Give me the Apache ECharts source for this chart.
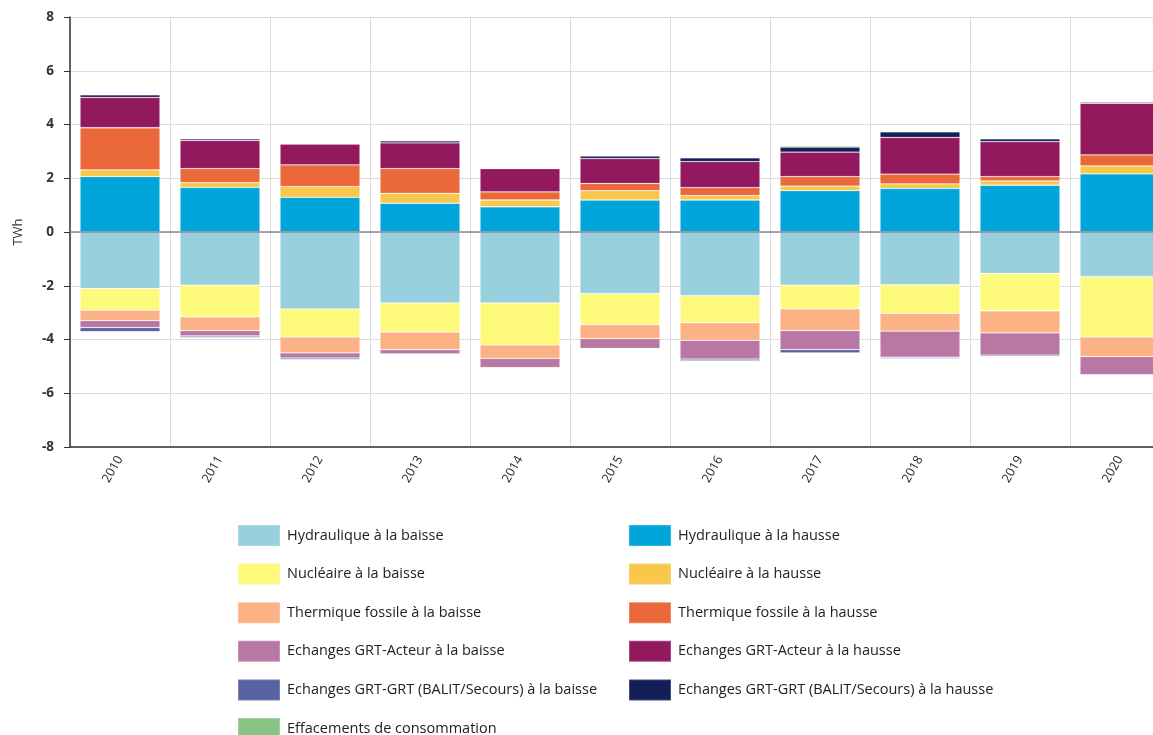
<!DOCTYPE html>
<html>
<head>
<meta charset="utf-8">
<script src="https://cdn.jsdelivr.net/npm/echarts@6/dist/echarts.min.js"></script>
<style>html,body{margin:0;padding:0;background:#fff;overflow:hidden;width:1153px;height:735px}#c{width:1170px;height:780px}</style>
</head>
<body>
<div id="c"></div>
<script>
const years = ['2010','2011','2012','2013','2014','2015','2016','2017','2018','2019','2020'];
const yTicks = [-8,-6,-4,-2,0,2,4,6,8];

const hydroDown   = [-2.10,-1.98,-2.86,-2.64,-2.64,-2.29,-2.37,-1.98,-1.96,-1.54,-1.66];
const nuclDown    = [-0.81,-1.18,-1.04,-1.08,-1.56,-1.16,-1.00,-0.88,-1.07,-1.39,-2.24];
const thermDown   = [-0.39,-0.51,-0.60,-0.66,-0.50,-0.52,-0.66,-0.81,-0.66,-0.82,-0.74];
const grtActDown  = [-0.26,-0.20,-0.19,-0.16,-0.35,-0.36,-0.70,-0.71,-0.97,-0.83,-0.67];
const grtGrtDown  = [-0.15,-0.06,-0.06,-0.03,0,0,-0.07,-0.12,-0.05,-0.05,0];

const hydroUp     = [2.06,1.66,1.29,1.07,0.94,1.19,1.19,1.54,1.62,1.74,2.16];
const nuclUp      = [0.25,0.18,0.40,0.37,0.25,0.35,0.16,0.17,0.17,0.16,0.30];
const thermUp     = [1.57,0.52,0.81,0.92,0.30,0.27,0.30,0.35,0.36,0.16,0.41];
const grtActUp    = [1.13,1.05,0.77,0.96,0.87,0.92,0.97,0.91,1.37,1.30,1.92];
const grtGrtUp    = [0.09,0.06,0,0.07,0,0.10,0.14,0.19,0.21,0.11,0.05];
const effacements = [0,0,0,0,0,0,0,0.05,0,0,0];

const names = {
  hd:'Hydraulique à la baisse', hu:'Hydraulique à la hausse',
  nd:'Nucléaire à la baisse', nu:'Nucléaire à la hausse',
  td:'Thermique fossile à la baisse', tu:'Thermique fossile à la hausse',
  ad:'Echanges GRT-Acteur à la baisse', au:'Echanges GRT-Acteur à la hausse',
  gd:'Echanges GRT-GRT (BALIT/Secours) à la baisse', gu:'Echanges GRT-GRT (BALIT/Secours) à la hausse',
  ef:'Effacements de consommation'
};
const colors = {
  hd:'#97D0DC', hu:'#00A6DA', nd:'#FDFA7C', nu:'#F8C74C',
  td:'#FDB285', tu:'#EB683A', ad:'#B978A4', au:'#93195F',
  gd:'#5762A1', gu:'#141F5A', ef:'#87C486'
};

function bar(key, data){
  return {
    name: names[key], type:'bar', stack:'total', data:data,
    barCategoryGap:'20%',
    itemStyle:{color:colors[key], borderColor:'rgba(255,255,255,0.2)', borderWidth:0.8},
    emphasis:{disabled:true}
  };
}

const series = [
  bar('hu', hydroUp), bar('hd', hydroDown),
  bar('nu', nuclUp), bar('nd', nuclDown),
  bar('tu', thermUp), bar('td', thermDown),
  bar('au', grtActUp), bar('ad', grtActDown),
  bar('gu', grtGrtUp), bar('gd', grtGrtDown),
  bar('ef', effacements)
];
series[0].markLine = {
  silent:true, symbol:'none', label:{show:false},
  lineStyle:{color:'#8a8a8a', width:1.5, type:'solid'},
  data:[{yAxis:0}]
};

const legendText = {color:'#222', fontSize:14.5, padding:[0,0,0,2], fontFamily:'"Open Sans", "Noto Sans", sans-serif'};
const chart = echarts.init(document.getElementById('c'), null, {renderer:'canvas'});
chart.setOption({
  backgroundColor:'#fff',
  animation:false,
  grid:{left:70, top:17, width:1100, height:430, containLabel:false},
  legend:[
    {orient:'vertical', left:237, top:524, padding:0, itemWidth:42, itemHeight:21, itemGap:15.6,
     icon:'rect', textStyle:legendText, selectedMode:false,
     data:[names.hd,names.nd,names.td,names.ad,names.gd,names.ef]},
    {orient:'vertical', left:628, top:524, padding:0, itemWidth:42, itemHeight:21, itemGap:15.6,
     icon:'rect', textStyle:legendText, selectedMode:false,
     data:[names.hu,names.nu,names.tu,names.au,names.gu]}
  ],
  xAxis:{
    type:'category', data:years,
    axisLine:{onZero:false, lineStyle:{color:'#333', width:1.5}},
    axisTick:{alignWithLabel:true, length:6, lineStyle:{color:'#333'}},
    axisLabel:{rotate:60, color:'#222', fontSize:12.5, margin:10, fontFamily:'"Open Sans", sans-serif'},
    splitLine:{show:true, lineStyle:{color:'#dcdcdc'}}
  },
  yAxis:{
    type:'value', min:-8, max:8, interval:2,
    name:'TWh', nameLocation:'middle', nameGap:45, nameRotate:90,
    nameTextStyle:{color:'#333', fontSize:13, fontFamily:'"Open Sans", sans-serif'},
    axisLine:{show:true, lineStyle:{color:'#333', width:1.5}},
    axisTick:{show:true, length:6, lineStyle:{color:'#333'}},
    axisLabel:{color:'#333', fontSize:13.5, fontWeight:'bold', margin:16, fontFamily:'"Open Sans", sans-serif',
      formatter:function(v){return yTicks.indexOf(v)>=0 ? String(v) : '';}},
    splitLine:{show:true, lineStyle:{color:'#dcdcdc'}}
  },
  series:series
});
</script>
</body>
</html>
